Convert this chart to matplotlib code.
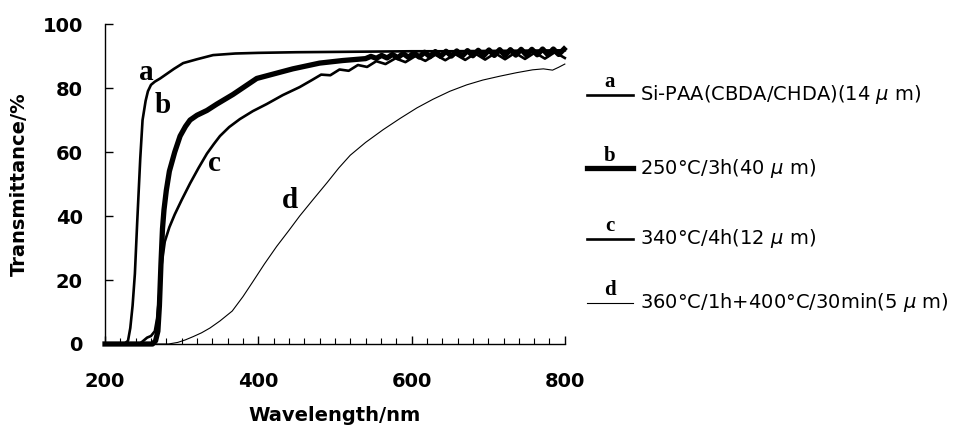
import matplotlib
matplotlib.use("Agg")
import matplotlib.pyplot as plt
from matplotlib.lines import Line2D

plt.rcParams.update({
    "font.family": "DejaVu Sans",
    "axes.linewidth": 1.0,
})

# curve a: Si-PAA film
a_wl = [200, 225, 230, 233, 236, 239, 242, 246, 249, 253, 256, 260, 265, 272, 281,
        290, 302, 320, 341, 370, 400, 450, 500, 550, 600, 650, 700, 750, 800]
a_T = [0, 0, 1, 5, 12, 22, 38, 58, 70, 76, 79, 81, 82, 83, 84.5,
       86, 87.8, 89, 90.3, 90.8, 91, 91.2, 91.3, 91.4, 91.5, 91.5, 91.6, 91.7, 91.8]

# curve b: 250C/3h (fine fringes above ~540 nm)
b_wl = [200, 262, 266, 269, 271, 273, 275, 277, 280, 284, 291, 298, 305, 311, 320,
        333, 346, 367, 398, 445, 480, 510, 540, 547, 554, 561, 568, 575, 582, 589,
        596, 603, 610, 617, 624, 631, 638, 645, 652, 659, 666, 673, 680, 687, 694,
        701, 708, 715, 722, 729, 736, 743, 750, 757, 764, 771, 778, 785, 792, 799]
b_T = [0, 0, 1, 4, 12, 25, 36, 42, 48, 54, 60, 65, 68, 70, 71.5,
       73, 75, 78, 83, 86, 87.8, 88.6, 89.2, 89.9, 89.3, 90.2, 89.4, 90.5, 89.5, 90.8,
       89.6, 91.0, 89.7, 91.2, 89.8, 91.4, 89.9, 91.5, 90.0, 91.6, 90.0, 91.7, 90.1, 91.8, 90.1,
       91.9, 90.2, 92.0, 90.2, 92.0, 90.3, 92.1, 90.3, 92.1, 90.4, 92.2, 90.4, 92.2, 90.5, 92.2]

# curve c: 340C/4h (interference fringes at long wavelength)
c_wl = [200, 245, 250, 255, 260, 265, 268, 271, 274, 278, 284, 291, 300, 311, 322,
        333, 342, 350, 362, 376, 393, 411, 432, 454, 470, 482, 494, 506, 518, 530,
        542, 554, 566, 579, 592, 605, 618, 631, 644, 657, 670, 683, 696, 709, 722,
        735, 748, 761, 774, 787, 800]
c_T = [0, 0, 1, 2, 2.5, 4, 8, 16, 25, 32, 36.5, 40.5, 45, 50.2, 55,
       59.5, 62.5, 65, 67.8, 70.3, 72.8, 75, 77.8, 80.3, 82.5, 84.2, 84.0, 85.8, 85.4, 87.2,
       86.6, 88.4, 87.5, 89.3, 88.1, 90.0, 88.5, 90.4, 88.7, 90.6, 88.8, 90.8, 88.9, 90.9, 89.0,
       91.0, 89.1, 91.1, 89.2, 91.2, 89.4]

# curve d: 360C/1h + 400C/30min
d_wl = [200, 283, 295, 305, 315, 326, 337, 350, 366, 380, 393, 408, 424, 440, 454,
        471, 490, 505, 520, 540, 563, 585, 607, 628, 650, 672, 693, 715, 737, 758,
        772, 784, 792, 800]
d_T = [0, 0, 0.5, 1.3, 2.3, 3.5, 5, 7.2, 10.3, 14.8, 19.5, 25, 30.5, 35.5, 40,
       45, 50.5, 55, 59, 63, 67, 70.5, 73.8, 76.5, 79, 81, 82.5, 83.7, 84.8, 85.7,
       86, 85.6, 86.5, 87.5]

letters = ["a", "b", "c", "d"]
legend_texts = [
    "Si-PAA(CBDA/CHDA)(14 $\\mu$ m)",
    "250\u00b0C/3h(40 $\\mu$ m)",
    "340\u00b0C/4h(12 $\\mu$ m)",
    "360\u00b0C/1h+400\u00b0C/30min(5 $\\mu$ m)",
]
line_widths = [1.9, 3.8, 1.9, 0.8]
letter_pos = [(254, 85), (275, 74.5), (343, 56.5), (441, 45)]

fig = plt.figure(figsize=(9.66, 4.26), dpi=100)
ax = fig.add_axes([0.1087, 0.1925, 0.476, 0.751])

series = [(a_wl, a_T), (b_wl, b_T), (c_wl, c_T), (d_wl, d_T)]
for (wl, T), lw in zip(series, line_widths):
    ax.plot(wl, T, color="black", lw=lw, solid_joinstyle="round", clip_on=False)

for lab, (x, y) in zip(letters, letter_pos):
    ax.text(x, y, lab, ha="center", va="center", fontsize=21,
            fontweight="bold", family="Liberation Serif")

ax.set_xlim(200, 800)
ax.set_ylim(0, 100)
ax.set_xticks([200, 400, 600, 800])
ax.set_xticks(range(200, 801, 20), minor=True)
ax.set_yticks(range(0, 101, 20))
ax.tick_params(axis="both", which="major", direction="in", length=6, width=1,
               labelsize=14)
ax.tick_params(axis="x", which="minor", direction="in", length=4, width=0.8)
ax.tick_params(axis="x", which="major", pad=20)
ax.tick_params(axis="y", which="major", pad=16)
for lbl in ax.get_xticklabels() + ax.get_yticklabels():
    lbl.set_fontweight("bold")
ax.spines["top"].set_visible(False)
ax.spines["right"].set_visible(False)
ax.set_xlabel("Wavelength/nm", fontsize=14, fontweight="bold", labelpad=11)
ax.set_ylabel("Transmittance/%", fontsize=14, fontweight="bold", labelpad=10)

# legend drawn by hand to the right of the axes
leg_y = [0.778, 0.605, 0.440, 0.289]
for lab, txt, lw, y in zip(letters, legend_texts, line_widths, leg_y):
    fig.add_artist(Line2D([0.6077, 0.6553], [y, y], color="black", lw=lw,
                          transform=fig.transFigure))
    fig.text(0.631, y + 0.006, lab, ha="center", va="bottom", fontsize=15,
             fontweight="bold", family="Liberation Serif")
    fig.text(0.6625, y, txt, ha="left", va="center", fontsize=14)

fig.savefig("out.png", dpi=100)
